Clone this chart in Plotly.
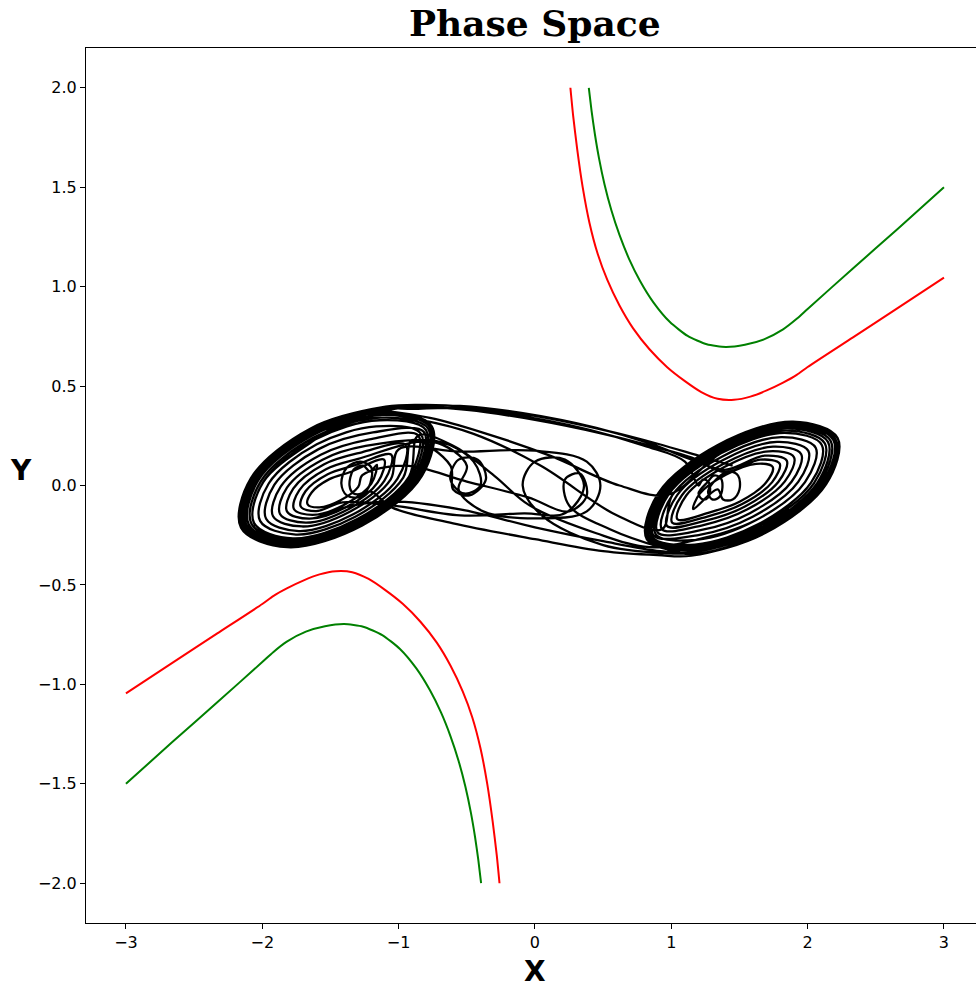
import plotly.graph_objects as go

# ---------------------------------------------------------------
# Boundary curves (red and green): upper-right and lower-left branches
# ---------------------------------------------------------------
red_upper_x = [0.26, 0.28, 0.31, 0.35, 0.40, 0.46, 0.53, 0.62, 0.72, 0.84, 0.97, 1.10, 1.22, 1.34, 1.46, 1.58, 1.70, 1.82, 1.92, 2.00, 2.33, 2.66, 3.00]
red_upper_y = [2.00, 1.86, 1.69, 1.50, 1.32, 1.165, 1.035, 0.905, 0.79, 0.685, 0.595, 0.525, 0.470, 0.436, 0.431, 0.447, 0.478, 0.517, 0.556, 0.596, 0.744, 0.892, 1.045]
red_lower_x = [-0.26, -0.28, -0.31, -0.35, -0.40, -0.46, -0.53, -0.62, -0.72, -0.84, -0.97, -1.10, -1.22, -1.34, -1.46, -1.58, -1.70, -1.82, -1.92, -2.00, -2.33, -2.66, -3.00]
red_lower_y = [-2.00, -1.86, -1.69, -1.50, -1.32, -1.165, -1.035, -0.905, -0.79, -0.685, -0.595, -0.525, -0.470, -0.436, -0.431, -0.447, -0.478, -0.517, -0.556, -0.596, -0.744, -0.892, -1.045]

green_upper_x = [0.395, 0.415, 0.44, 0.47, 0.51, 0.56, 0.62, 0.69, 0.77, 0.87, 0.99, 1.12, 1.26, 1.40, 1.54, 1.68, 1.82, 1.92, 2.00, 2.33, 2.66, 3.00]
green_upper_y = [2.00, 1.885, 1.765, 1.645, 1.515, 1.385, 1.26, 1.14, 1.03, 0.92, 0.822, 0.752, 0.710, 0.697, 0.708, 0.735, 0.785, 0.838, 0.888, 1.09, 1.29, 1.50]
green_lower_x = [-0.395, -0.415, -0.44, -0.47, -0.51, -0.56, -0.62, -0.69, -0.77, -0.87, -0.99, -1.12, -1.26, -1.40, -1.54, -1.68, -1.82, -1.92, -2.00, -2.33, -2.66, -3.00]
green_lower_y = [-2.00, -1.885, -1.765, -1.645, -1.515, -1.385, -1.26, -1.14, -1.03, -0.92, -0.822, -0.752, -0.710, -0.697, -0.708, -0.735, -0.785, -0.838, -0.888, -1.09, -1.29, -1.50]

# ---------------------------------------------------------------
# Double-scroll orbit, stored as waypoint segments
# ---------------------------------------------------------------
# left scroll rings, counter-clockwise, starting at the upper right
left_ring_01 = [(-1.095, 0.396), (-1.645, 0.287), (-2.084, 0.036), (-2.156, -0.212), (-1.817, -0.310), (-1.267, -0.201), (-0.828, 0.050), (-0.757, 0.298)]
left_ring_01b = [(-1.101, 0.386), (-1.640, 0.279), (-2.072, 0.033), (-2.143, -0.209), (-1.811, -0.303), (-1.272, -0.196), (-0.841, 0.050), (-0.769, 0.292)]
left_ring_02 = [(-1.106, 0.377), (-1.635, 0.271), (-2.059, 0.030), (-2.130, -0.205), (-1.806, -0.297), (-1.277, -0.191), (-0.853, 0.050), (-0.782, 0.285)]
left_ring_02b = [(-1.115, 0.366), (-1.630, 0.262), (-2.044, 0.027), (-2.114, -0.202), (-1.799, -0.290), (-1.283, -0.186), (-0.869, 0.049), (-0.799, 0.278)]
left_ring_03 = [(-1.123, 0.355), (-1.626, 0.254), (-2.030, 0.025), (-2.098, -0.198), (-1.791, -0.283), (-1.288, -0.182), (-0.885, 0.047), (-0.816, 0.270)]
left_ring_03b = [(-1.132, 0.341), (-1.619, 0.242), (-2.011, 0.021), (-2.079, -0.193), (-1.783, -0.274), (-1.296, -0.175), (-0.904, 0.046), (-0.836, 0.260)]
left_ring_04 = [(-1.142, 0.328), (-1.613, 0.231), (-1.993, 0.017), (-2.060, -0.189), (-1.775, -0.266), (-1.303, -0.169), (-0.923, 0.045), (-0.856, 0.251)]
left_ring_05 = [(-1.165, 0.297), (-1.600, 0.207), (-1.953, 0.010), (-2.016, -0.178), (-1.753, -0.247), (-1.318, -0.157), (-0.966, 0.040), (-0.902, 0.228)]
left_ring_06 = [(-1.188, 0.267), (-1.587, 0.183), (-1.912, 0.003), (-1.972, -0.167), (-1.732, -0.229), (-1.333, -0.145), (-1.008, 0.035), (-0.948, 0.205)]
left_ring_07 = [(-1.214, 0.232), (-1.571, 0.155), (-1.864, -0.005), (-1.921, -0.155), (-1.708, -0.206), (-1.351, -0.129), (-1.058, 0.031), (-1.001, 0.181)]
left_ring_08 = [(-1.242, 0.199), (-1.558, 0.130), (-1.819, -0.011), (-1.870, -0.143), (-1.682, -0.187), (-1.366, -0.118), (-1.105, 0.023), (-1.054, 0.155)]
left_ring_09 = [(-1.270, 0.167), (-1.546, 0.107), (-1.773, -0.016), (-1.819, -0.130), (-1.656, -0.167), (-1.380, -0.107), (-1.153, 0.016), (-1.107, 0.130)]
left_ring_10 = [(-1.297, 0.134), (-1.533, 0.082), (-1.728, -0.023), (-1.768, -0.118), (-1.631, -0.148), (-1.395, -0.096), (-1.200, 0.009), (-1.160, 0.104)]
left_ring_11 = [(-1.325, 0.101), (-1.520, 0.057), (-1.683, -0.029), (-1.718, -0.106), (-1.605, -0.129), (-1.410, -0.085), (-1.248, 0.001), (-1.212, 0.078)]
left_ring_12 = [(-1.354, 0.068), (-1.508, 0.032), (-1.638, -0.035), (-1.668, -0.094), (-1.580, -0.110), (-1.426, -0.074), (-1.296, -0.007), (-1.266, 0.052)]
left_core_a = [(-1.21, 0.07), (-1.26, 0.10), (-1.33, 0.08), (-1.36, 0.0), (-1.33, -0.04), (-1.27, -0.04), (-1.22, -0.01)]
left_core_b = [(-1.20, 0.09), (-1.28, 0.12), (-1.38, 0.09), (-1.42, 0.01), (-1.38, -0.05), (-1.30, -0.06), (-1.21, -0.03)]

# right scroll rings, counter-clockwise, starting at the lower left
right_ring_01 = [(1.147, -0.353), (1.692, -0.238), (2.136, 0.007), (2.220, 0.239), (1.893, 0.321), (1.348, 0.206), (0.904, -0.039), (0.821, -0.271)]
right_ring_01b = [(1.150, -0.345), (1.684, -0.232), (2.121, 0.009), (2.204, 0.234), (1.885, 0.313), (1.351, 0.200), (0.914, -0.041), (0.831, -0.266)]
right_ring_02 = [(1.153, -0.337), (1.677, -0.225), (2.106, 0.010), (2.189, 0.229), (1.877, 0.305), (1.353, 0.193), (0.924, -0.042), (0.841, -0.261)]
right_ring_02b = [(1.158, -0.328), (1.668, -0.218), (2.087, 0.010), (2.169, 0.224), (1.866, 0.296), (1.356, 0.186), (0.937, -0.042), (0.855, -0.256)]
right_ring_03 = [(1.163, -0.319), (1.660, -0.212), (2.069, 0.011), (2.150, 0.218), (1.855, 0.287), (1.358, 0.180), (0.949, -0.043), (0.868, -0.250)]
right_ring_03b = [(1.168, -0.308), (1.650, -0.203), (2.047, 0.012), (2.127, 0.211), (1.843, 0.276), (1.361, 0.171), (0.964, -0.044), (0.884, -0.243)]
right_ring_04 = [(1.173, -0.297), (1.640, -0.194), (2.025, 0.014), (2.104, 0.204), (1.831, 0.265), (1.364, 0.162), (0.979, -0.046), (0.900, -0.236)]
right_ring_05 = [(1.184, -0.273), (1.619, -0.175), (1.981, 0.017), (2.059, 0.190), (1.806, 0.243), (1.371, 0.145), (1.009, -0.047), (0.932, -0.220)]
right_ring_06 = [(1.199, -0.249), (1.597, -0.157), (1.931, 0.018), (2.005, 0.174), (1.776, 0.219), (1.377, 0.127), (1.043, -0.048), (0.969, -0.204)]
right_ring_07 = [(1.214, -0.225), (1.576, -0.139), (1.882, 0.019), (1.953, 0.157), (1.746, 0.195), (1.384, 0.109), (1.078, -0.049), (1.007, -0.187)]
right_ring_08 = [(1.228, -0.200), (1.555, -0.121), (1.833, 0.021), (1.900, 0.142), (1.716, 0.172), (1.389, 0.093), (1.111, -0.049), (1.045, -0.170)]
right_ring_09 = [(1.246, -0.178), (1.537, -0.107), (1.786, 0.019), (1.847, 0.125), (1.684, 0.150), (1.393, 0.079), (1.144, -0.047), (1.083, -0.153)]
right_ring_10 = [(1.264, -0.156), (1.520, -0.093), (1.740, 0.017), (1.795, 0.110), (1.652, 0.130), (1.396, 0.067), (1.176, -0.043), (1.121, -0.136)]
right_ring_11 = [(1.282, -0.135), (1.504, -0.080), (1.695, 0.015), (1.744, 0.093), (1.622, 0.109), (1.400, 0.054), (1.209, -0.041), (1.161, -0.119)]
right_core_a = [(1.34, -0.02), (1.38, -0.07), (1.45, -0.07), (1.50, -0.02), (1.49, 0.05), (1.43, 0.07), (1.36, 0.05)]
right_core_b = [(1.27, -0.03), (1.30, -0.07), (1.35, -0.06), (1.375, -0.01), (1.36, 0.04), (1.31, 0.05), (1.27, 0.02)]
right_core_c = [(1.20, -0.04), (1.23, -0.07), (1.27, -0.06), (1.285, -0.02), (1.27, 0.02), (1.23, 0.03), (1.20, 0.0)]

# transfers between the scrolls and excursions near the origin
upper_band_1 = [(1.45, 0.10), (1.20, 0.15), (0.90, 0.21), (0.50, 0.28), (0.00, 0.35), (-0.50, 0.395), (-0.80, 0.405)]
upper_band_2 = [(1.15, 0.14), (0.90, 0.19), (0.50, 0.26), (0.00, 0.33), (-0.50, 0.38), (-0.85, 0.395)]
upper_band_3 = [(1.10, 0.12), (0.80, 0.20), (0.40, 0.28), (-0.20, 0.36), (-0.60, 0.39), (-0.90, 0.385)]
upper_band_4 = [(1.15, 0.13), (0.85, 0.21), (0.45, 0.29), (-0.10, 0.365), (-0.55, 0.40), (-0.95, 0.40), (-1.30, 0.36)]
lower_band_1 = [(-1.05, -0.11), (-0.60, -0.19), (0.00, -0.27), (0.50, -0.33), (0.90, -0.35)]
lower_band_2 = [(-0.95, 0.10), (-0.50, 0.02), (-0.05, -0.06), (0.25, -0.13), (0.38, -0.05), (0.33, 0.06), (0.22, 0.03), (0.25, -0.10), (0.55, -0.22), (0.92, -0.31)]
lower_band_3 = [(-1.05, -0.10), (-0.55, -0.15), (-0.08, -0.14), (0.22, -0.14), (0.36, 0.0), (0.22, 0.13), (0.0, 0.12), (-0.09, 0.0), (0.05, -0.15), (0.50, -0.30), (0.95, -0.34)]
lower_band_4 = [(-1.05, -0.08), (-0.55, -0.12), (0.00, -0.21), (0.50, -0.28), (0.92, -0.33)]
cross_1 = [(-0.60, 0.20), (-0.30, 0.05), (-0.04, -0.10), (0.45, -0.24), (0.84, -0.31)]
cross_2 = [(0.60, -0.15), (0.04, 0.10), (-0.45, 0.26), (-0.84, 0.33)]
cross_3 = [(0.62, 0.0), (0.11, 0.15), (-0.40, 0.27), (-0.77, 0.34)]
middle_loop = [(-0.55, 0.17), (0.0, 0.175), (0.38, 0.12), (0.48, 0.0), (0.38, -0.13), (0.0, -0.165), (-0.38, -0.13), (-0.56, -0.02), (-0.50, 0.10), (-0.75, 0.22)]
side_loops = [(-0.62, 0.10), (-0.60, -0.02), (-0.48, -0.05), (-0.36, 0.03), (-0.42, 0.13), (-0.56, 0.13), (-0.62, 0.03), (-0.52, -0.04), (-0.40, 0.0), (-0.45, 0.12), (-0.70, 0.22)]

# order in which the orbit runs through the segments
orbit_segments = [
    upper_band_1,
    left_ring_01, left_ring_02b, left_ring_04, left_ring_07, middle_loop, left_ring_10, left_core_a, left_core_b,
    lower_band_1,
    right_ring_01, right_ring_02b, right_ring_04, right_ring_07, right_ring_10[:6],
    upper_band_2,
    left_ring_02, left_ring_03b, left_ring_05, side_loops, left_ring_08, left_ring_11[:6],
    lower_band_3,
    right_ring_02, right_ring_03b, right_ring_05, right_ring_08, right_ring_11, right_core_a, right_core_b, right_core_c,
    upper_band_3,
    left_ring_01b, left_ring_03, left_ring_06, left_ring_09, left_ring_12,
    lower_band_2,
    right_ring_01b, right_ring_03, right_ring_06, right_ring_09[:6],
    upper_band_4,
    left_ring_04[1:],
    cross_1,
    right_ring_05,
    cross_2,
    left_ring_03, left_ring_06, left_ring_09[:6],
    lower_band_4,
    right_ring_02, right_ring_04[:7],
    cross_3,
    left_ring_02[:1],
]

orbit_x = [p[0] for seg in orbit_segments for p in seg]
orbit_y = [p[1] for seg in orbit_segments for p in seg]

# ---------------------------------------------------------------
# Figure
# ---------------------------------------------------------------
x_ticks = [-3, -2, -1, 0, 1, 2, 3]
y_ticks = [-2.0, -1.5, -1.0, -0.5, 0.0, 0.5, 1.0, 1.5, 2.0]

fig = go.Figure()
fig.add_trace(go.Scatter(x=orbit_x, y=orbit_y, mode="lines",
                         line=dict(color="black", width=2.3, shape="spline", smoothing=1.0)))
for cx, cy, colour in [(red_upper_x, red_upper_y, "red"), (red_lower_x, red_lower_y, "red"),
                       (green_upper_x, green_upper_y, "green"), (green_lower_x, green_lower_y, "green")]:
    fig.add_trace(go.Scatter(x=cx, y=cy, mode="lines",
                             line=dict(color=colour, width=2, shape="spline", smoothing=0.6)))

tick_font = dict(family="DejaVu Sans", size=16, color="black")
axis_common = dict(showgrid=False, zeroline=False, showline=True, linecolor="black",
                   linewidth=1, ticks="outside", ticklen=5, tickwidth=1,
                   tickcolor="black", tickfont=tick_font)

fig.update_layout(
    width=976, height=988,
    margin=dict(l=86, r=0, t=48, b=65, pad=0),
    paper_bgcolor="white", plot_bgcolor="white",
    showlegend=False,
    xaxis=dict(range=[-3.293, 3.235], tickvals=x_ticks, tickformat="d", mirror=True, **axis_common),
    yaxis=dict(range=[-2.2, 2.2], tickvals=y_ticks, tickformat=".1f", mirror=False, **axis_common),
    annotations=[
        dict(text="<b>Phase Space</b>", xref="paper", yref="paper", x=0.5045, y=1.0,
             xanchor="center", yanchor="bottom", yshift=2, showarrow=False,
             font=dict(family="DejaVu Serif", size=36, color="black")),
        dict(text="<b>X</b>", xref="paper", yref="paper", x=0.5045, y=-0.0571, yshift=1,
             xanchor="center", yanchor="middle", showarrow=False,
             font=dict(family="DejaVu Sans", size=28, color="black")),
        dict(text="<b>Y</b>", xref="paper", yref="paper", x=-0.073, y=0.5177,
             xanchor="center", yanchor="middle", showarrow=False,
             font=dict(family="DejaVu Sans", size=28, color="black")),
    ],
)

fig.write_html("out.html")
